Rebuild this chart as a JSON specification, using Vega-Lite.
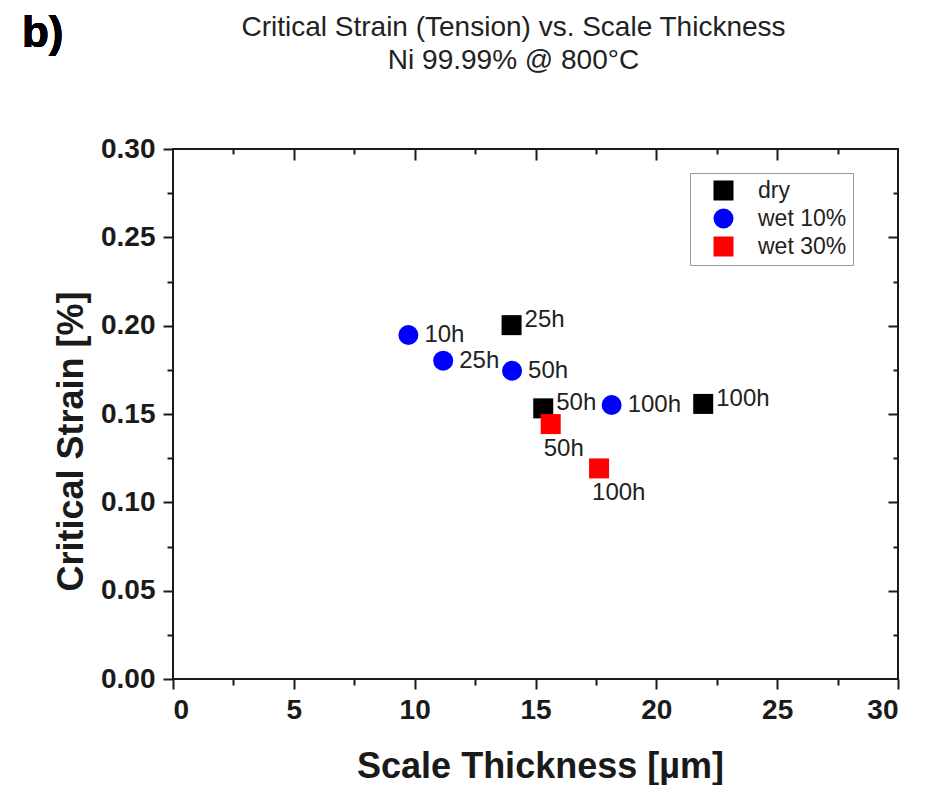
{
  "$schema": "https://vega.github.io/schema/vega-lite/v6.json",
  "width": 725,
  "height": 530,
  "autosize": {"type": "none"},
  "padding": {"left": 173, "top": 149, "right": 35, "bottom": 106},
  "background": "white",
  "title": {
    "text": ["Critical Strain (Tension) vs. Scale Thickness", "Ni 99.99% @ 800°C"],
    "font": "Liberation Sans",
    "fontSize": 28,
    "fontWeight": "normal",
    "color": "#222222",
    "lineHeight": 33,
    "anchor": "middle",
    "frame": "group",
    "offset": -63,
    "dx": -22
  },
  "config": {
    "view": {"stroke": "#1a1a1a", "strokeWidth": 2},
    "axis": {
      "grid": false,
      "domain": false,
      "tickColor": "#1a1a1a",
      "tickWidth": 2,
      "labelFont": "Liberation Sans",
      "labelFontWeight": "bold",
      "labelFontSize": 28,
      "labelColor": "#1a1a1a",
      "titleFont": "Liberation Sans",
      "titleFontWeight": "bold",
      "titleFontSize": 36,
      "titleColor": "#1a1a1a"
    },
    "legend": {
      "orient": "none",
      "legendX": 517,
      "legendY": 24,
      "strokeColor": "#999999",
      "fillColor": "white",
      "padding": 6,
      "symbolOffset": 16,
      "labelOffset": 23,
      "rowPadding": 4,
      "labelFont": "Liberation Sans",
      "labelFontSize": 23,
      "labelColor": "#222222",
      "symbolSize": 400,
      "symbolStrokeWidth": 0,
      "symbolOpacity": 1
    }
  },
  "data": {
    "values": [
      {"series": "dry", "time": "25h", "thickness": 14.01, "strain": 0.2003},
      {"series": "dry", "time": "50h", "thickness": 15.32, "strain": 0.1532},
      {"series": "dry", "time": "100h", "thickness": 21.94, "strain": 0.1557},
      {"series": "wet 10%", "time": "10h", "thickness": 9.74, "strain": 0.1947},
      {"series": "wet 10%", "time": "25h", "thickness": 11.18, "strain": 0.1802},
      {"series": "wet 10%", "time": "50h", "thickness": 14.03, "strain": 0.1745},
      {"series": "wet 10%", "time": "100h", "thickness": 18.15, "strain": 0.1551},
      {"series": "wet 30%", "time": "50h", "thickness": 15.63, "strain": 0.1443},
      {"series": "wet 30%", "time": "100h", "thickness": 17.63, "strain": 0.1192}
    ]
  },
  "resolve": {"axis": {"x": "independent", "y": "independent"}},
  "layer": [
    {
      "mark": {"type": "point", "filled": true, "opacity": 1, "size": 400, "strokeWidth": 0},
      "encoding": {
        "x": {
          "field": "thickness", "type": "quantitative",
          "scale": {"domain": [0, 30], "nice": false, "zero": false},
          "axis": {
            "orient": "bottom",
            "title": "Scale Thickness [µm]",
            "values": [0, 5, 10, 15, 20, 25, 30],
            "format": "d",
            "tickSize": 10,
            "labelPadding": 7,
            "labelBaseline": "top",
            "titleX": 367,
            "titleY": 98,
            "titleBaseline": "alphabetic",
            "titleAlign": "center"
          }
        },
        "y": {
          "field": "strain", "type": "quantitative",
          "scale": {"domain": [0, 0.3], "nice": false, "zero": false},
          "axis": {
            "orient": "left",
            "title": "Critical Strain [%]",
            "values": [0, 0.05, 0.1, 0.15, 0.2, 0.25, 0.3],
            "format": ".2f",
            "tickSize": 10,
            "labelPadding": 8,
            "titleAngle": -90,
            "titleX": -91,
            "titleY": 292,
            "titleBaseline": "alphabetic",
            "titleAlign": "center"
          }
        },
        "color": {
          "field": "series", "type": "nominal",
          "scale": {"domain": ["dry", "wet 10%", "wet 30%"], "range": ["#000000", "#0000ff", "#ff0000"]},
          "legend": {"title": null}
        },
        "shape": {
          "field": "series", "type": "nominal",
          "scale": {"domain": ["dry", "wet 10%", "wet 30%"], "range": ["square", "circle", "square"]},
          "legend": {"title": null}
        }
      }
    },
    {
      "transform": [{"filter": "datum.series === 'dry'"}],
      "mark": {"type": "text", "align": "left", "baseline": "middle", "dx": 13, "dy": -5, "font": "Liberation Sans", "fontSize": 24, "color": "#222222"},
      "encoding": {
        "x": {"field": "thickness", "type": "quantitative", "axis": null},
        "y": {"field": "strain", "type": "quantitative", "axis": null},
        "text": {"field": "time"}
      }
    },
    {
      "transform": [{"filter": "datum.series === 'wet 10%'"}],
      "mark": {"type": "text", "align": "left", "baseline": "middle", "dx": 16, "dy": 0, "font": "Liberation Sans", "fontSize": 24, "color": "#222222"},
      "encoding": {
        "x": {"field": "thickness", "type": "quantitative", "axis": null},
        "y": {"field": "strain", "type": "quantitative", "axis": null},
        "text": {"field": "time"}
      }
    },
    {
      "transform": [{"filter": "datum.series === 'wet 30%'"}],
      "mark": {"type": "text", "align": "left", "baseline": "middle", "dx": -7, "dy": 25, "font": "Liberation Sans", "fontSize": 24, "color": "#222222"},
      "encoding": {
        "x": {"field": "thickness", "type": "quantitative", "axis": null},
        "y": {"field": "strain", "type": "quantitative", "axis": null},
        "text": {"field": "time"}
      }
    },
    {
      "mark": {"type": "text", "align": "left", "baseline": "alphabetic", "font": "Liberation Sans", "fontSize": 44, "fontWeight": "bold", "color": "#000000"},
      "encoding": {
        "x": {"datum": -6.25, "type": "quantitative", "axis": null},
        "y": {"datum": 0.358, "type": "quantitative", "axis": null},
        "text": {"value": "b)"}
      }
    },
    {
      "mark": {"type": "point", "opacity": 0},
      "encoding": {
        "x": {"field": "thickness", "type": "quantitative",
          "axis": {"orient": "bottom", "title": null, "labels": false, "tickSize": 6, "values": [2.5, 7.5, 12.5, 17.5, 22.5, 27.5]}},
        "y": {"field": "strain", "type": "quantitative",
          "axis": {"orient": "left", "title": null, "labels": false, "tickSize": 6, "values": [0.025, 0.075, 0.125, 0.175, 0.225, 0.275]}}
      }
    },
    {
      "mark": {"type": "point", "opacity": 0},
      "encoding": {
        "x": {"field": "thickness", "type": "quantitative",
          "axis": {"orient": "top", "title": null, "labels": false, "tickSize": -11, "values": [5, 10, 15, 20, 25]}},
        "y": {"field": "strain", "type": "quantitative",
          "axis": {"orient": "right", "title": null, "labels": false, "tickSize": -10, "values": [0.05, 0.1, 0.15, 0.2, 0.25]}}
      }
    },
    {
      "mark": {"type": "point", "opacity": 0},
      "encoding": {
        "x": {"field": "thickness", "type": "quantitative",
          "axis": {"orient": "top", "title": null, "labels": false, "tickSize": -5, "values": [2.5, 7.5, 12.5, 17.5, 22.5, 27.5]}},
        "y": {"field": "strain", "type": "quantitative",
          "axis": {"orient": "right", "title": null, "labels": false, "tickSize": -5, "values": [0.025, 0.075, 0.125, 0.175, 0.225, 0.275]}}
      }
    }
  ]
}
